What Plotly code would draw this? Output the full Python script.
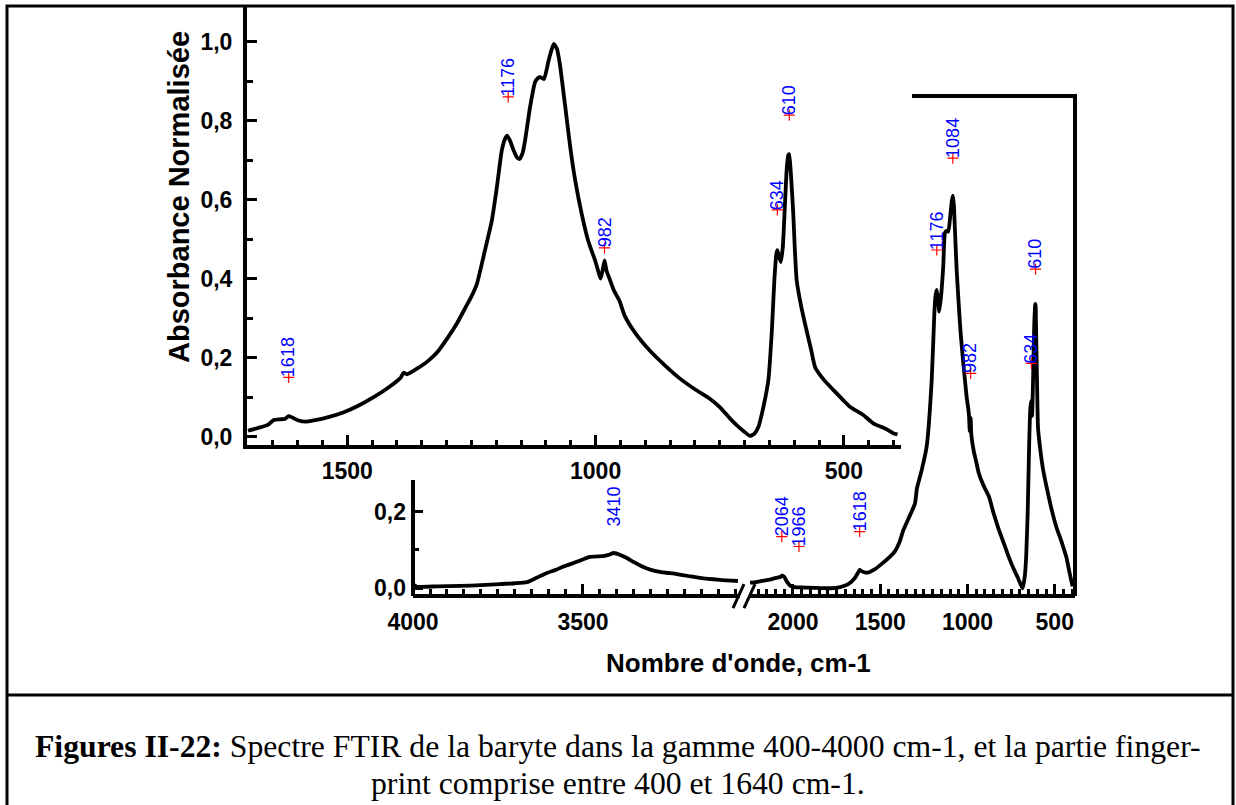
import plotly.graph_objects as go

W, H = 1236, 805


def fx(p):
    return p / W


def fy(p):
    return 1 - p / H


# ---------------- data ----------------
# Main (fingerprint) spectrum, 1700-400 cm-1
main_wn = [1700, 1680, 1660, 1648, 1636, 1626, 1618, 1610, 1598, 1585, 1565, 1540, 1507, 1480,
           1447, 1420, 1398, 1392, 1387, 1380, 1360, 1339, 1318, 1298, 1280, 1262, 1250, 1239,
           1225, 1209, 1199, 1189, 1182, 1178, 1172, 1165, 1158, 1153, 1147, 1142, 1132, 1122,
           1116, 1112, 1104, 1095, 1088, 1084, 1078, 1072, 1061, 1051, 1041, 1028, 1015, 1001,
           995, 990, 986, 982, 978, 972, 963, 952, 941, 920, 891, 860, 830, 800, 770, 750, 730,
           715, 700, 689, 680, 672, 665, 658, 652, 645, 640, 636, 634, 631, 627, 623, 619, 615,
           612, 610, 607, 602, 599, 595, 586, 575, 566, 558, 541, 521, 501, 488, 461, 441, 416,
           401, 392]
main_abs = [0.015, 0.022, 0.030, 0.042, 0.044, 0.045, 0.052, 0.048, 0.041, 0.038, 0.042, 0.049,
            0.062, 0.077, 0.100, 0.122, 0.143, 0.150, 0.162, 0.158, 0.172, 0.190, 0.215, 0.250,
            0.285, 0.327, 0.355, 0.387, 0.460, 0.547, 0.630, 0.724, 0.755, 0.762, 0.748, 0.724,
            0.706, 0.703, 0.718, 0.750, 0.834, 0.897, 0.908, 0.910, 0.905, 0.950, 0.982, 0.994,
            0.982, 0.943, 0.834, 0.732, 0.648, 0.564, 0.496, 0.446, 0.420, 0.400, 0.420, 0.446,
            0.420, 0.400, 0.370, 0.344, 0.305, 0.262, 0.218, 0.180, 0.147, 0.120, 0.096, 0.075,
            0.047, 0.028, 0.012, 0.002, 0.008, 0.025, 0.059, 0.100, 0.144, 0.270, 0.397, 0.462,
            0.472, 0.458, 0.442, 0.480, 0.580, 0.680, 0.712, 0.715, 0.670, 0.566, 0.480, 0.395,
            0.330, 0.268, 0.220, 0.176, 0.145, 0.118, 0.092, 0.076, 0.055, 0.034, 0.020, 0.009,
            0.006]

# Full spectrum, high-wavenumber segment (4000-3040 cm-1)
hi_wn = [4000, 3988, 3930, 3862, 3800, 3744, 3700, 3665, 3635, 3606, 3580, 3559, 3518, 3479,
         3441, 3425, 3409, 3390, 3371, 3350, 3324, 3300, 3274, 3224, 3190, 3156, 3097, 3044]
hi_abs = [0.010, 0.004, 0.005, 0.006, 0.008, 0.011, 0.013, 0.016, 0.028, 0.040, 0.048, 0.056,
          0.069, 0.082, 0.084, 0.087, 0.092, 0.087, 0.079, 0.068, 0.056, 0.048, 0.043, 0.037,
          0.032, 0.027, 0.022, 0.019]

# Full spectrum, low-wavenumber segment (2250-390 cm-1)
lo_wn = [2246, 2226, 2178, 2129, 2097, 2070, 2063, 2050, 2042, 2030, 2014, 1990, 1956, 1880,
         1782, 1730, 1686, 1650, 1628, 1618, 1605, 1585, 1570, 1530, 1493, 1450, 1415, 1390,
         1368, 1335, 1301, 1290, 1262, 1234, 1205, 1190, 1183, 1176, 1168, 1162, 1150, 1139,
         1129, 1120, 1110, 1098, 1090, 1084, 1078, 1072, 1062, 1053, 1040, 1024, 1005, 992,
         987, 982, 978, 965, 950, 935, 910, 877, 850, 819, 790, 762, 735, 712, 695, 684, 672,
         664, 655, 648, 640, 634, 630, 624, 618, 612, 610, 608, 602, 596, 585, 567, 540, 515,
         491, 460, 433, 415, 398]
lo_abs = [0.015, 0.015, 0.019, 0.023, 0.027, 0.030, 0.033, 0.030, 0.023, 0.014, 0.006, 0.003,
          0.002, 0.001, 0.000, 0.003, 0.010, 0.024, 0.040, 0.048, 0.044, 0.041, 0.041, 0.050,
          0.063, 0.080, 0.097, 0.120, 0.151, 0.185, 0.221, 0.260, 0.309, 0.370, 0.544, 0.718,
          0.765, 0.779, 0.750, 0.722, 0.770, 0.840, 0.928, 0.933, 0.931, 0.975, 1.010, 1.025,
          1.000, 0.936, 0.830, 0.761, 0.670, 0.587, 0.500, 0.455, 0.410, 0.445, 0.400, 0.360,
          0.330, 0.300, 0.270, 0.239, 0.195, 0.151, 0.115, 0.080, 0.050, 0.028, 0.010, 0.000,
          0.030, 0.080, 0.200, 0.350, 0.470, 0.490, 0.450, 0.550, 0.680, 0.740, 0.742, 0.700,
          0.550, 0.420, 0.370, 0.310, 0.250, 0.200, 0.160, 0.120, 0.080, 0.040, 0.005]

# Peak labels
main_peak_wn = [1618, 1176, 982, 634, 610]
main_peak_y = [0.150, 0.860, 0.478, 0.574, 0.814]
low_peak_wn = [2064, 1966, 1618, 1176, 1084, 982, 634, 610]
low_peak_y = [0.135, 0.109, 0.148, 0.883, 1.123, 0.561, 0.587, 0.833]
high_peak_wn = [3410]
high_peak_y = [0.160]

main_x_ticks = [1500, 1000, 500]
hi_x_ticks = [4000, 3500]
lo_x_ticks = [2000, 1500, 1000, 500]
main_y_ticks = [0.0, 0.2, 0.4, 0.6, 0.8, 1.0]
low_y_ticks = [0.0, 0.2]


def fmt(v):
    return f"{v:.1f}".replace(".", ",")


# ---------------- figure ----------------
fig = go.Figure()
LW = 3.8
fig.add_trace(go.Scatter(x=main_wn, y=main_abs, mode="lines", xaxis="x", yaxis="y",
                         line=dict(color="black", width=LW, shape="spline", smoothing=0.5),
                         showlegend=False, hoverinfo="skip"))
fig.add_trace(go.Scatter(x=hi_wn, y=hi_abs, mode="lines", xaxis="x2", yaxis="y2",
                         line=dict(color="black", width=LW, shape="spline", smoothing=0.5),
                         showlegend=False, hoverinfo="skip"))
fig.add_trace(go.Scatter(x=lo_wn, y=lo_abs, mode="lines", xaxis="x3", yaxis="y3",
                         line=dict(color="black", width=LW, shape="spline", smoothing=0.5),
                         showlegend=False, hoverinfo="skip"))

mk = dict(symbol="cross-thin", size=8, color="red", line=dict(color="red", width=1.2))
fig.add_trace(go.Scatter(x=main_peak_wn, y=main_peak_y, mode="markers", xaxis="x", yaxis="y",
                         marker=mk, showlegend=False, hoverinfo="skip"))
fig.add_trace(go.Scatter(x=low_peak_wn, y=low_peak_y, mode="markers", xaxis="x3", yaxis="y3",
                         marker=mk, showlegend=False, hoverinfo="skip"))

annotations = []
lab_font = dict(family="Liberation Sans, Arial", size=18, color="#0000ff")
for xv, yv in zip(main_peak_wn, main_peak_y):
    annotations.append(dict(x=xv, y=yv, xref="x", yref="y", text=str(xv), textangle=-90,
                            showarrow=False, xanchor="center", yanchor="bottom", font=lab_font,
                            yshift=-2))
for xv, yv in zip(low_peak_wn, low_peak_y):
    annotations.append(dict(x=xv, y=yv, xref="x3", yref="y3", text=str(xv), textangle=-90,
                            showarrow=False, xanchor="center", yanchor="bottom", font=lab_font,
                            yshift=-2))
for xv, yv in zip(high_peak_wn, high_peak_y):
    annotations.append(dict(x=xv, y=yv, xref="x2", yref="y2", text=str(xv), textangle=-90,
                            showarrow=False, xanchor="center", yanchor="bottom", font=lab_font,
                            yshift=-2))

title_font = dict(family="Liberation Sans, Arial", size=29, color="black", weight="bold")
annotations.append(dict(x=fx(179), y=fy(197), xref="paper", yref="paper",
                        text="Absorbance Normalisée", textangle=-90, showarrow=False,
                        xanchor="center", yanchor="middle", font=title_font))
annotations.append(dict(x=fx(738), y=fy(663), xref="paper", yref="paper",
                        text="Nombre d'onde, cm-1", showarrow=False,
                        xanchor="center", yanchor="middle",
                        font=dict(family="Liberation Sans, Arial", size=26, color="black",
                                  weight="bold")))
cap_font = dict(family="Liberation Serif, Times New Roman", size=31.7, color="black")
annotations.append(dict(x=fx(618), y=fy(746), xref="paper", yref="paper",
                        text="<b>Figures II-22:</b> Spectre FTIR de la baryte dans la gamme "
                             "400-4000 cm-1, et la partie finger-",
                        showarrow=False, xanchor="center", yanchor="middle", font=cap_font))
annotations.append(dict(x=fx(618), y=fy(783), xref="paper", yref="paper",
                        text="print comprise entre 400 et 1640 cm-1.",
                        showarrow=False, xanchor="center", yanchor="middle", font=cap_font))

tick_font = dict(family="Liberation Sans, Arial", size=23, color="black", weight="bold")


def xax(domain, rng, anchor, majors, lo, hi, standoff):
    minors = [v for v in range(lo, hi + 1, 50) if v not in majors]
    return dict(domain=domain, range=rng, anchor=anchor, showline=True, linewidth=4,
                linecolor="black", ticks="inside", ticklen=10, tickwidth=3, tickcolor="black",
                tickmode="array", tickvals=majors, ticktext=[str(v) for v in majors],
                tickfont=tick_font, ticklabelstandoff=standoff, automargin=False,
                minor=dict(tickmode="array", tickvals=minors, ticks="inside", ticklen=5,
                           tickwidth=3, tickcolor="black", showgrid=False),
                showgrid=False, zeroline=False, fixedrange=True)


layout = dict(
    width=W, height=H, margin=dict(l=0, r=0, t=0, b=0, pad=0), autosize=False,
    paper_bgcolor="white", plot_bgcolor="rgba(0,0,0,0)", showlegend=False,
    xaxis=xax([fx(247), fx(901)], [1702, 385], "y", main_x_ticks, 400, 1700, 2),
    yaxis=dict(domain=[fy(445), fy(6)], range=[-0.021, 1.09], anchor="x", showline=True,
               linewidth=4, linecolor="black", ticks="inside", ticklen=10, tickwidth=3,
               tickcolor="black", tickmode="array", tickvals=main_y_ticks,
               ticktext=[fmt(v) for v in main_y_ticks], tickfont=tick_font,
               ticklabelstandoff=6, automargin=False,
               minor=dict(tickmode="array", tickvals=[0.1, 0.3, 0.5, 0.7, 0.9], ticks="inside",
                          ticklen=6, tickwidth=3, tickcolor="black", showgrid=False),
               showgrid=False, zeroline=False, fixedrange=True),
    xaxis2=xax([fx(413), fx(740)], [4000, 3038], "y2", hi_x_ticks, 3050, 4000, 4),
    xaxis3=xax([fx(749), fx(1075)], [2252, 384], "y3", lo_x_ticks, 400, 2250, 4),
    yaxis2=dict(domain=[fy(594), fy(96)], range=[-0.015, 1.285], anchor="x2", showline=False,
                ticks="inside", ticklen=10, tickwidth=3, tickcolor="black", tickmode="array",
                tickvals=low_y_ticks, ticktext=[fmt(v) for v in low_y_ticks],
                tickfont=tick_font, ticklabelstandoff=6, automargin=False,
                minor=dict(tickmode="array", tickvals=[0.1], ticks="inside", ticklen=6,
                           tickwidth=3, tickcolor="black", showgrid=False),
                showgrid=False, zeroline=False, fixedrange=True),
    yaxis3=dict(domain=[fy(594), fy(96)], range=[-0.015, 1.285], anchor="x3", visible=False,
                automargin=False, showgrid=False, zeroline=False, fixedrange=True),
    annotations=annotations,
)

shapes = []
# outer frame and caption separator
shapes.append(dict(type="rect", xref="paper", yref="paper", x0=fx(7), x1=fx(1233),
                   y0=fy(812), y1=fy(6), line=dict(color="black", width=3)))
shapes.append(dict(type="line", xref="paper", yref="paper", x0=fx(7), x1=fx(1233),
                   y0=fy(695), y1=fy(695), line=dict(color="black", width=3)))
# full-spectrum frame (top and right), and its visible y-axis line
shapes.append(dict(type="line", xref="paper", yref="paper", x0=fx(912), x1=fx(1077),
                   y0=fy(96), y1=fy(96), line=dict(color="black", width=4)))
shapes.append(dict(type="line", xref="paper", yref="paper", x0=fx(1075), x1=fx(1075),
                   y0=fy(96), y1=fy(596), line=dict(color="black", width=4)))
shapes.append(dict(type="line", xref="paper", yref="paper", x0=fx(413), x1=fx(413),
                   y0=fy(480), y1=fy(596), line=dict(color="black", width=4)))
# axis break marks
shapes.append(dict(type="line", xref="paper", yref="paper", x0=fx(733), x1=fx(744),
                   y0=fy(608), y1=fy(584), line=dict(color="black", width=3)))
shapes.append(dict(type="line", xref="paper", yref="paper", x0=fx(744), x1=fx(755),
                   y0=fy(608), y1=fy(584), line=dict(color="black", width=3)))
layout["shapes"] = shapes

fig.update_layout(**layout)
fig.write_html("out.html", config={"displayModeBar": False},
               post_script="document.body.style.margin='0';"
                           "document.body.style.overflow='hidden';")
